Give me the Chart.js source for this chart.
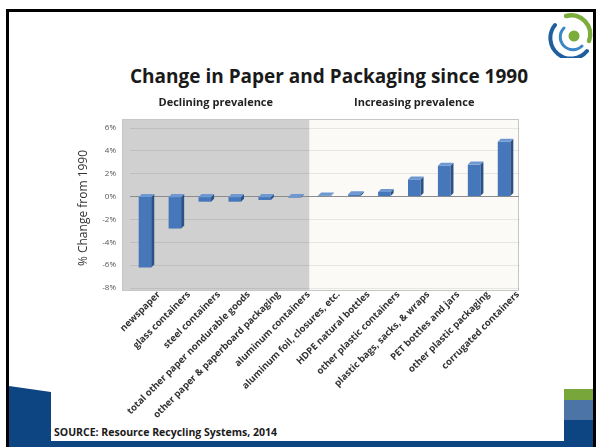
<!DOCTYPE html>
<html>
<head>
<meta charset="UTF-8">
<title>Change in Paper and Packaging since 1990</title>
<script src="https://cdn.jsdelivr.net/npm/chart.js@4.4.1/dist/chart.umd.min.js"></script>
<style>
  body { margin: 0; background: #fff; }
  #slide {
    position: relative;
    width: 596px;
    height: 447px;
    overflow: hidden;
    background: #fff;
    font-family: 'Open Sans', sans-serif;
  }
  /* moldura do slide e faixas do rodapé */
  .frame-top { position: absolute; left: 6px; top: 9px; width: 590px; height: 3px; background: #000; }
  .frame-left { position: absolute; left: 6px; top: 9px; width: 3px; height: 438px; background: #000; }
  .frame-right { position: absolute; left: 593px; top: 9px; width: 3px; height: 438px; background: #000; }
  .band-dark {
    position: absolute; left: 9px; top: 386px; width: 584px; height: 61px;
    background: #0c4582;
    clip-path: polygon(0 0, 42px 6px, 100% 6px, 100% 100%, 0 100%);
  }
  .band-green { position: absolute; left: 564px; top: 389px; width: 29px; height: 11px; background: #78a63a; }
  .band-mid { position: absolute; left: 564px; top: 400px; width: 29px; height: 20px; background: #4d74a7; }
  .box { position: absolute; left: 51px; top: 380px; width: 513px; height: 61px; background: #fff; }
  #title {
    position: absolute; left: 109px; width: 440px; top: 63px;
    text-align: center; font-weight: bold; font-size: 19px; color: #1a1a1a;
    white-space: nowrap;
  }
  #source {
    position: absolute; left: 54px; top: 425px;
    font-weight: bold; font-size: 10.5px; color: #1a1a1a;
  }
  #logo { position: absolute; left: 546px; top: 10px; }
  #chartBox { position: absolute; left: 0; top: 0; width: 596px; height: 447px; }
</style>
</head>
<body>
<div id="slide">
  <div class="frame-top"></div>
  <div class="frame-left"></div>
  <div class="frame-right"></div>
  <div class="band-dark"></div>
  <div class="band-green"></div>
  <div class="band-mid"></div>
  <div class="box"></div>
  <svg id="logo" width="48" height="48">
    <path d="M 20 6 A 19 19 0 0 1 43 31" stroke="#7cac3c" stroke-width="4.5" fill="none" stroke-linecap="round"/>
    <path d="M 9 15 A 20 20 0 0 0 41 41" stroke="#1f5f9e" stroke-width="4" fill="none" stroke-linecap="round"/>
    <path d="M 18 18 A 11 11 0 0 0 36 36" stroke="#3b86c5" stroke-width="3" fill="none" stroke-linecap="round"/>
    <circle cx="28" cy="26" r="5.5" fill="#7cac3c"/>
  </svg>
  <div id="title">Change in Paper and Packaging since 1990</div>
  <div id="source">SOURCE: Resource Recycling Systems, 2014</div>
  <div id="chartBox"><canvas id="myChart"></canvas></div>
</div>

<script>
  // Dados
  const categories = [
    'newspaper',
    'glass containers',
    'steel containers',
    'total other paper nondurable goods',
    'other paper & paperboard packaging',
    'aluminum containers',
    'aluminum foil, closures, etc.',
    'HDPE natural bottles',
    'other plastic containers',
    'plastic bags, sacks, & wraps',
    'PET bottles and jars',
    'other plastic packaging',
    'corrugated containers'
  ];
  const changePct = [-6.2, -2.8, -0.45, -0.45, -0.3, -0.1, 0.1, 0.2, 0.4, 1.5, 2.7, 2.8, 4.8];
  const yTicks = [-8, -6, -4, -2, 0, 2, 4, 6];
  const groupLabels = ['Declining prevalence', 'Increasing prevalence'];
  const decliningCount = 6;

  const FONT = "'Open Sans', sans-serif";

  // Fundo cinza/branco do gráfico + legendas dos grupos
  const panels = {
    id: 'panels',
    beforeDraw(chart) {
      const { ctx, chartArea: a, scales: { x } } = chart;
      const split = x.getPixelForValue(decliningCount - 0.5);
      const left = a.left - 8, top = a.top - 9, bottom = a.bottom + 3;
      ctx.save();
      ctx.fillStyle = '#d0d0d0';
      ctx.fillRect(left, top, split - left, bottom - top);
      ctx.fillStyle = '#fcfaf6';
      ctx.fillRect(split, top, a.right - split, bottom - top);
      ctx.strokeStyle = '#c6c6c6';
      ctx.lineWidth = 1;
      ctx.strokeRect(left + 0.5, top + 0.5, a.right - left - 1, bottom - top - 1);
      ctx.fillStyle = '#222';
      ctx.font = 'bold 11px ' + FONT;
      ctx.textAlign = 'center';
      ctx.textBaseline = 'middle';
      ctx.fillText(groupLabels[0], (left + split) / 2, top - 16);
      ctx.fillText(groupLabels[1], (split + a.right) / 2, top - 16);
      ctx.restore();
    }
  };

  // Efeito 3D simples nas barras (lado e topo)
  const bars3d = {
    id: 'bars3d',
    afterDatasetsDraw(chart) {
      const ctx = chart.ctx, d = 3;
      chart.getDatasetMeta(0).data.forEach(bar => {
        const { x, y, base, width } = bar.getProps(['x', 'y', 'base', 'width'], true);
        const l = x - width / 2, r = x + width / 2;
        const hi = Math.min(y, base), lo = Math.max(y, base);
        ctx.save();
        ctx.fillStyle = '#2b5288';
        ctx.beginPath();
        ctx.moveTo(r, hi); ctx.lineTo(r + d, hi - d); ctx.lineTo(r + d, lo - d); ctx.lineTo(r, lo);
        ctx.closePath(); ctx.fill();
        ctx.fillStyle = '#6d98d2';
        ctx.beginPath();
        ctx.moveTo(l, hi); ctx.lineTo(l + d, hi - d); ctx.lineTo(r + d, hi - d); ctx.lineTo(r, hi);
        ctx.closePath(); ctx.fill();
        ctx.restore();
      });
    }
  };

  const ctx = document.getElementById('myChart').getContext('2d');
  new Chart(ctx, {
    type: 'bar',
    data: {
      labels: categories,
      datasets: [{
        label: '% Change from 1990',
        data: changePct,
        backgroundColor: '#4777bb',
        borderWidth: 0,
        barPercentage: 0.42,
        categoryPercentage: 1
      }]
    },
    options: {
      responsive: true,
      maintainAspectRatio: false,
      animation: false,
      layout: { padding: { left: 76, right: 77, top: 128, bottom: 0 } },
      plugins: {
        legend: { display: false },
        tooltip: { enabled: false }
      },
      scales: {
        x: {
          grid: { display: false, drawTicks: false },
          border: { display: false },
          afterFit: s => { s.height = 159; },
          ticks: {
            color: '#333',
            font: { family: FONT, size: 9.5, weight: 'bold' },
            minRotation: 45,
            maxRotation: 45,
            autoSkip: false,
            padding: 1,
            labelOffset: 14
          }
        },
        y: {
          min: yTicks[0],
          max: yTicks[yTicks.length - 1],
          afterBuildTicks: s => { s.ticks = yTicks.map(v => ({ value: v })); },
          afterFit: s => { s.width = 54; },
          border: { display: false },
          grid: {
            drawTicks: false,
            color: c => c.tick.value === 0 ? '#8c8c8c' : 'rgba(0,0,0,0.08)'
          },
          ticks: {
            color: '#555',
            font: { family: FONT, size: 8 },
            padding: 14,
            callback: v => v + '%'
          },
          title: {
            display: true,
            text: '% Change from 1990',
            color: '#333',
            font: { family: FONT, size: 12 },
            padding: { top: 0, bottom: 0 }
          }
        }
      }
    },
    plugins: [panels, bars3d]
  });
</script>
</body>
</html>
